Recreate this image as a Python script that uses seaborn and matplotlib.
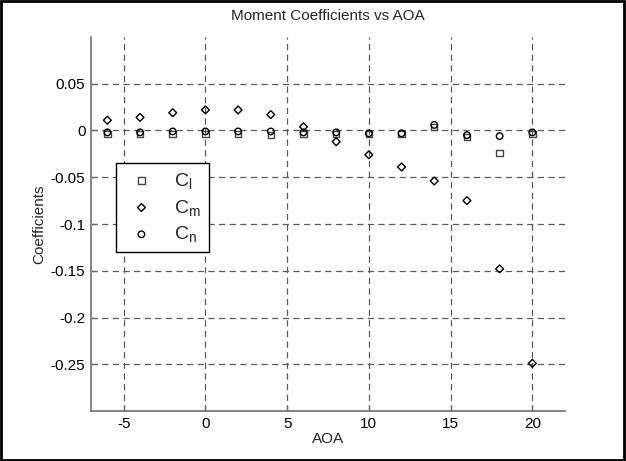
import numpy as np
import pandas as pd
import matplotlib
matplotlib.use("Agg")
import matplotlib.pyplot as plt
import seaborn as sns
from matplotlib.patches import Rectangle

aoa = [-6, -4, -2, 0, 2, 4, 6, 8, 10, 12, 14, 16, 18, 20]
cl = [-0.004, -0.004, -0.004, -0.004, -0.004, -0.005, -0.004, -0.004, -0.004, -0.004, 0.004, -0.007, -0.024, -0.004]
cm = [0.011, 0.014, 0.019, 0.022, 0.022, 0.017, 0.004, -0.012, -0.026, -0.039, -0.054, -0.075, -0.148, -0.249]
cn = [-0.002, -0.002, -0.001, -0.001, -0.001, -0.001, -0.002, -0.002, -0.003, -0.003, 0.006, -0.005, -0.006, -0.002]
x_ticks = [-5, 0, 5, 10, 15, 20]
y_ticks = [-0.25, -0.2, -0.15, -0.1, -0.05, 0, 0.05]
y_tick_labels = ["-0.25", "-0.2", "-0.15", "-0.1", "-0.05", "0", "0.05"]

sns.set_style("white")
plt.rcParams["font.family"] = ["Liberation Sans", "DejaVu Sans"]
plt.rcParams["mathtext.fontset"] = "custom"
plt.rcParams["mathtext.rm"] = "Liberation Sans"
plt.rcParams["mathtext.it"] = "Liberation Sans"

fig = plt.figure(figsize=(6.26, 4.61), dpi=100)
ax = fig.add_axes([91 / 626, 50 / 461, 474 / 626, 374 / 461])

df_l = pd.DataFrame({"AOA": aoa, "v": cl})
df_m = pd.DataFrame({"AOA": aoa, "v": cm})
df_n = pd.DataFrame({"AOA": aoa, "v": cn})

common = dict(ax=ax, x="AOA", y="v", facecolor="none", linewidth=1.0, zorder=3)
sns.scatterplot(data=df_l, marker="s", s=22, edgecolor="#444444", label=r"$\mathrm{C_l}$", **common)
sns.scatterplot(data=df_m, marker="D", s=16, edgecolor="black", label=r"$\mathrm{C_m}$", **common)
sns.scatterplot(data=df_n, marker="o", s=22, edgecolor="black", label=r"$\mathrm{C_n}$", **common)

ax.set_xlim(-7, 22)
ax.set_ylim(-0.3, 0.1)
ax.set_xticks(x_ticks)
ax.set_xticklabels([str(t) for t in x_ticks])
ax.set_yticks(y_ticks)
ax.set_yticklabels(y_tick_labels)

ax.grid(True, color="#5a5a5a", linestyle=(0, (5, 3.5)), linewidth=0.9)
ax.set_axisbelow(True)
for side in ["top", "right"]:
    ax.spines[side].set_visible(False)
for side in ["left", "bottom"]:
    ax.spines[side].set_color("#6e6e6e")
    ax.spines[side].set_linewidth(1.2)
ax.tick_params(axis="both", direction="in", length=4, width=1, color="#6e6e6e",
               labelsize=11, labelcolor="black", pad=4, left=True, bottom=True)

ax.set_xlabel("AOA", fontsize=11, labelpad=1)
ax.set_ylabel("Coefficients", fontsize=11, labelpad=3)
ax.set_title("Moment Coefficients vs AOA", fontsize=11, pad=12)

leg = ax.legend(loc="upper left", bbox_to_anchor=(0.053, 0.663), fontsize=14,
                frameon=True, fancybox=False, edgecolor="black", framealpha=1,
                borderpad=0.4, labelspacing=0.35, handletextpad=0.8, handlelength=1.8,
                borderaxespad=0)
leg.get_frame().set_linewidth(1.0)
leg.set_zorder(5)

fig.patches.append(Rectangle((0.002, 0.003), 0.995, 0.994, transform=fig.transFigure,
                             fill=False, edgecolor="black", linewidth=2))

fig.savefig("out.png", dpi=100)
